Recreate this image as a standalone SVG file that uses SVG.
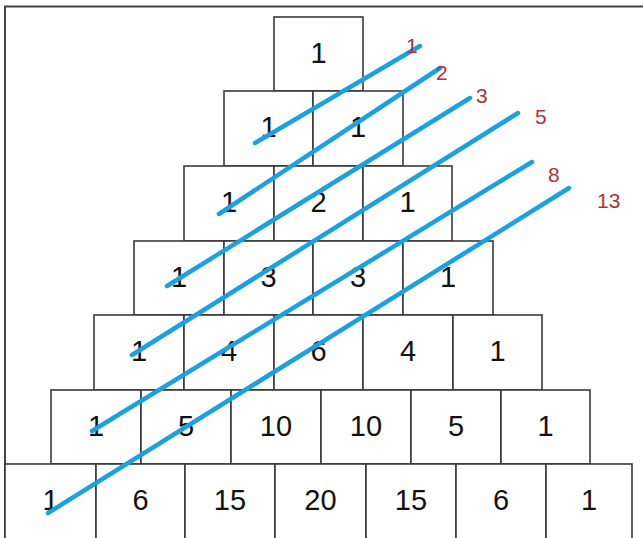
<svg xmlns="http://www.w3.org/2000/svg" width="643" height="538" viewBox="0 0 643 538">
<style>
.c rect{fill:#fff;stroke:#3a3a3a;stroke-width:1.6}
.c text{font-family:"Liberation Sans",Arial,sans-serif;font-size:29px;fill:#111;text-anchor:middle}
.d{stroke:#1ba0e0;stroke-width:4.5;stroke-linecap:round;fill:none}
.f{font-family:"Liberation Sans",Arial,sans-serif;font-size:21px;fill:#b0303e}
</style>
<rect width="643" height="538" fill="#fff"/>
<path d="M5 538 V6.5 H643" fill="none" stroke="#444" stroke-width="2"/>
<g class="c">
<g id="r0c0"><rect x="274" y="17" width="89" height="74"/><text x="318.5" y="63">1</text></g>
<g id="r1c0"><rect x="224" y="91" width="89" height="75"/><text x="268.5" y="137">1</text></g>
<g id="r1c1"><rect x="313" y="91" width="90" height="75"/><text x="358" y="137">1</text></g>
<g id="r2c0"><rect x="184" y="166" width="90" height="75"/><text x="229" y="212">1</text></g>
<g id="r2c1"><rect x="274" y="166" width="89" height="75"/><text x="318.5" y="212">2</text></g>
<g id="r2c2"><rect x="363" y="166" width="89" height="75"/><text x="407.5" y="212">1</text></g>
<g id="r3c0"><rect x="134" y="241" width="90" height="74"/><text x="179" y="287">1</text></g>
<g id="r3c1"><rect x="224" y="241" width="89" height="74"/><text x="268.5" y="287">3</text></g>
<g id="r3c2"><rect x="313" y="241" width="90" height="74"/><text x="358" y="287">3</text></g>
<g id="r3c3"><rect x="403" y="241" width="90" height="74"/><text x="448" y="287">1</text></g>
<g id="r4c0"><rect x="94" y="315" width="90" height="75"/><text x="139" y="361">1</text></g>
<g id="r4c1"><rect x="184" y="315" width="90" height="75"/><text x="229" y="361">4</text></g>
<g id="r4c2"><rect x="274" y="315" width="89" height="75"/><text x="318.5" y="361">6</text></g>
<g id="r4c3"><rect x="363" y="315" width="90" height="75"/><text x="408" y="361">4</text></g>
<g id="r4c4"><rect x="453" y="315" width="89" height="75"/><text x="497.5" y="361">1</text></g>
<g id="r5c0"><rect x="51" y="390" width="90" height="74"/><text x="96" y="436">1</text></g>
<g id="r5c1"><rect x="141" y="390" width="90" height="74"/><text x="186" y="436">5</text></g>
<g id="r5c2"><rect x="231" y="390" width="90" height="74"/><text x="276" y="436">10</text></g>
<g id="r5c3"><rect x="321" y="390" width="90" height="74"/><text x="366" y="436">10</text></g>
<g id="r5c4"><rect x="411" y="390" width="90" height="74"/><text x="456" y="436">5</text></g>
<g id="r5c5"><rect x="501" y="390" width="89" height="74"/><text x="545.5" y="436">1</text></g>
<g id="r6c0"><rect x="5" y="464" width="91" height="80"/><text x="50.5" y="510">1</text></g>
<g id="r6c1"><rect x="96" y="464" width="89" height="80"/><text x="140.5" y="510">6</text></g>
<g id="r6c2"><rect x="185" y="464" width="90" height="80"/><text x="230" y="510">15</text></g>
<g id="r6c3"><rect x="275" y="464" width="91" height="80"/><text x="320.5" y="510">20</text></g>
<g id="r6c4"><rect x="366" y="464" width="90" height="80"/><text x="411" y="510">15</text></g>
<g id="r6c5"><rect x="456" y="464" width="90" height="80"/><text x="501" y="510">6</text></g>
<g id="r6c6"><rect x="546" y="464" width="86" height="80"/><text x="589" y="510">1</text></g>
</g>
<g id="connectors">
<line class="d" x1="255" y1="143" x2="420" y2="46"/>
<line class="d" x1="219" y1="214" x2="440" y2="68"/>
<line class="d" x1="167" y1="286" x2="470" y2="98"/>
<line class="d" x1="132" y1="355" x2="518" y2="113"/>
<line class="d" x1="92" y1="431" x2="532" y2="162"/>
<line class="d" x1="48" y1="513" x2="569" y2="188"/>
</g>
<g id="labels">
<text class="f" x="406" y="53">1</text>
<text class="f" x="436" y="80">2</text>
<text class="f" x="476" y="103">3</text>
<text class="f" x="535" y="124">5</text>
<text class="f" x="548" y="182">8</text>
<text class="f" x="597" y="208">13</text>
</g>
</svg>
